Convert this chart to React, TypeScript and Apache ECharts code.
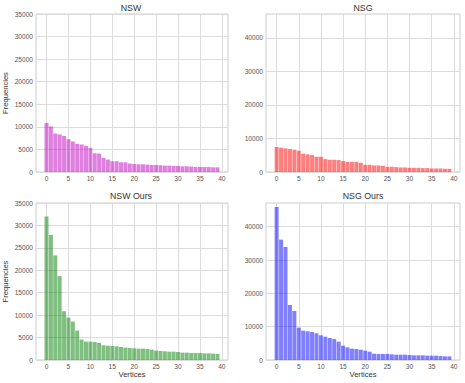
import React, { useEffect, useRef } from "react";
import * as echarts from "echarts";

const vertices = Array.from({ length: 40 }, (_, i) => i);
const xTicks = [0, 5, 10, 15, 20, 25, 30, 35, 40];
const leftYTicks = [0, 5000, 10000, 15000, 20000, 25000, 30000, 35000];
const rightYTicks = [0, 10000, 20000, 30000, 40000];

const nswValues = [10850, 10100, 8540, 8320, 7950, 7280, 6760, 6240, 6090, 5800, 5350, 4160, 4090, 3120, 2750, 2380, 2380, 2150, 2150, 1860, 1780, 1710, 1710, 1630, 1560, 1560, 1490, 1410, 1410, 1340, 1340, 1260, 1260, 1190, 1110, 1110, 1110, 1100, 1040, 1040];
const nsgValues = [7450, 7250, 7050, 6850, 6650, 6350, 5450, 5250, 5050, 4550, 4550, 3850, 3650, 3650, 3550, 3250, 3050, 3050, 3050, 2750, 2150, 2150, 1950, 1950, 1850, 1550, 1550, 1450, 1350, 1350, 1250, 1250, 1250, 1150, 1150, 1050, 1050, 1050, 950, 950];
const nswOursValues = [31970, 27870, 23320, 18700, 10880, 9460, 8570, 6560, 4550, 4100, 4100, 4020, 3800, 3280, 3200, 3130, 3060, 2910, 2760, 2680, 2610, 2530, 2530, 2460, 2310, 2090, 2010, 1940, 1860, 1860, 1790, 1640, 1640, 1570, 1570, 1570, 1490, 1490, 1420, 1340];
const nsgOursValues = [45900, 36100, 33900, 16500, 14700, 9700, 8800, 8600, 8400, 8000, 7400, 7000, 6600, 6300, 5500, 4300, 3800, 3400, 3300, 3100, 2800, 2500, 1900, 1800, 1800, 1800, 1700, 1600, 1600, 1600, 1500, 1400, 1400, 1400, 1300, 1300, 1300, 1200, 1100, 1100];

const titles = ["NSW", "NSG", "NSW Ours", "NSG Ours"];
const FONT = "Liberation Sans, Arial, sans-serif";

export default function App() {
  const ref = useRef<HTMLDivElement>(null);
  useEffect(() => {
    if (!ref.current) return;
    const chart = echarts.init(ref.current, null, { renderer: "svg" });
    const panels = [
      { left: 34, top: 14, height: 158, data: nswValues, color: "rgba(191,0,191,0.5)", ymax: 35000, yt: leftYTicks, yname: "Frequencies", xname: "" },
      { left: 266, top: 14, height: 158, data: nsgValues, color: "rgba(255,0,0,0.5)", ymax: 47100, yt: rightYTicks, yname: "", xname: "" },
      { left: 34, top: 203, height: 157, data: nswOursValues, color: "rgba(0,128,0,0.5)", ymax: 35000, yt: leftYTicks, yname: "Frequencies", xname: "Vertices" },
      { left: 266, top: 203, height: 157, data: nsgOursValues, color: "rgba(0,0,255,0.5)", ymax: 47100, yt: rightYTicks, yname: "", xname: "Vertices" },
    ];
    const plain = (v: number) => String(Math.round(v));
    const grid = panels.map((p) => ({
      left: p.left,
      top: p.top,
      width: 194,
      height: p.height,
      show: true,
      borderColor: "#cccccc",
      borderWidth: 1,
      backgroundColor: "#ffffff",
    }));
    const xAxis = panels.map((p, i) => ({
      type: "value",
      gridIndex: i,
      min: -2.4,
      max: 41.4,
      name: p.xname,
      nameLocation: "middle",
      nameGap: 10,
      nameTextStyle: { fontFamily: FONT, fontSize: 7.6, fontWeight: "normal", color: "#333333", verticalAlign: "top" },
      axisLine: { show: false },
      axisTick: { show: false, customValues: xTicks },
      axisLabel: { customValues: xTicks, formatter: plain, fontFamily: FONT, fontSize: 6.6, color: "#555555", margin: 3 },
      splitLine: { show: true, lineStyle: { color: "#dcdcdc", width: 1 } },
    }));
    const yAxis = panels.map((p, i) => ({
      type: "value",
      gridIndex: i,
      min: 0,
      max: p.ymax,
      name: p.yname,
      nameLocation: "middle",
      nameGap: 27,
      nameRotate: 90,
      nameTextStyle: { fontFamily: FONT, fontSize: 7.6, fontWeight: "normal", color: "#333333" },
      axisLine: { show: false },
      axisTick: { show: false, customValues: p.yt },
      axisLabel: { customValues: p.yt, formatter: plain, fontFamily: FONT, fontSize: 6.6, color: "#555555", margin: 3 },
      splitLine: { show: true, lineStyle: { color: "#dcdcdc", width: 1 } },
    }));
    const series = panels.map((p, i) => ({
      type: "bar",
      xAxisIndex: i,
      yAxisIndex: i,
      barWidth: 4,
      data: vertices.map((v, k) => [v, p.data[k]]),
      itemStyle: { color: p.color },
    }));
    const graphic = panels.map((p, i) => ({
      type: "text",
      x: p.left + 97,
      y: i < 2 ? 7.5 : 196,
      style: {
        text: titles[i],
        fontFamily: FONT,
        fontSize: 8.8,
        fontWeight: "normal",
        fill: "#333333",
        textAlign: "center",
        textVerticalAlign: "middle",
      },
    }));
    chart.setOption({
      animation: false,
      backgroundColor: "#ffffff",
      grid,
      xAxis,
      yAxis,
      series,
      graphic,
    });
    return () => chart.dispose();
  }, []);
  return <div ref={ref} style={{ width: 465, height: 383, position: "absolute", left: 0, top: 0 }} />;
}
